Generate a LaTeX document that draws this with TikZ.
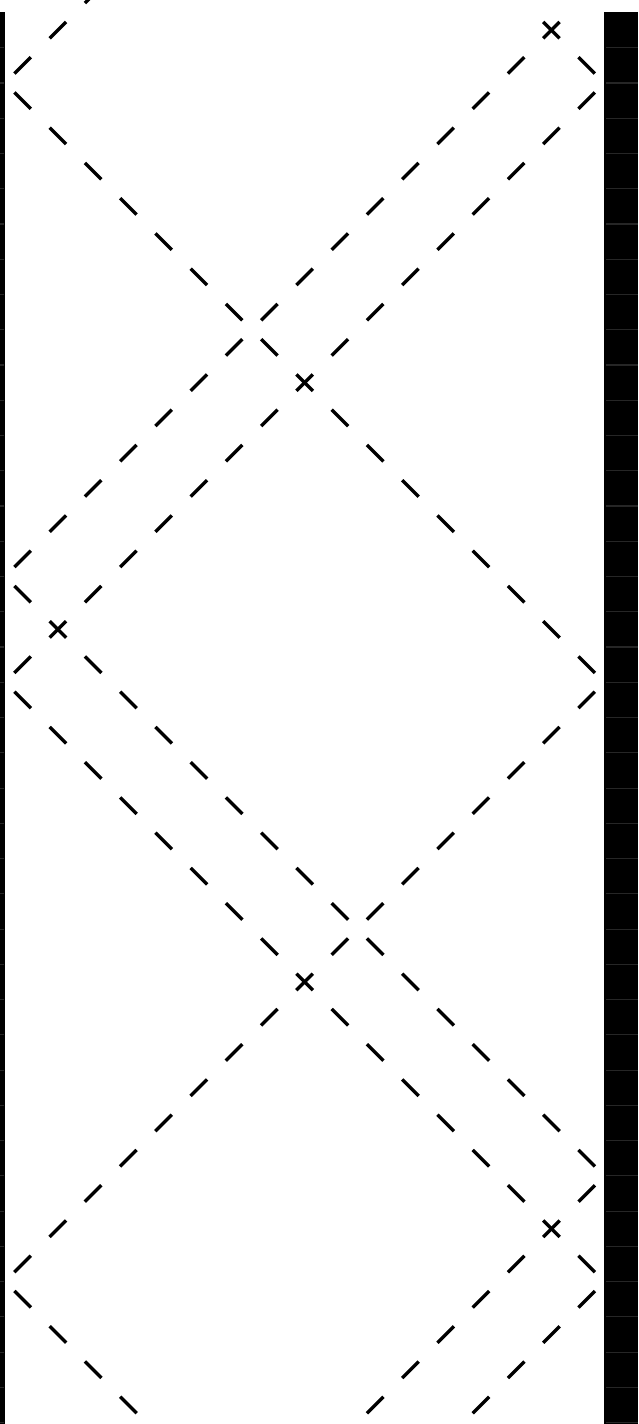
\documentclass[tikz,border=0pt]{standalone}
\begin{document}
\begin{tikzpicture}[x=0.5cm,y=-0.5cm,
  ray/.style={line width=1.35pt, black, dash pattern=on 0.33cm off 0.377107cm, dash phase=0.518553cm},
  wall/.style={fill=black},
  tick/.style={draw=black!85, line width=0.45pt}]
\path[use as bounding box] (-0.1418,-0.3546) rectangle (17.957,40.04);
\clip (-0.1418,-0.3546) rectangle (17.957,40.04);
\fill[white] (-0.1418,-0.3546) rectangle (17.957,40.04);
% walls
\path[wall] (-0.1418,0) rectangle (0,40.2);
\path[wall] (17,0) rectangle (17.957,40.2);
\foreach \k in {1,...,40} {
  \draw[tick] (17.05,\k) -- (17.957,\k);
  \draw[tick] (-0.1418,\k) -- (-0.04,\k);
}
% rays
\draw[ray] (16,0) -- (0,16) -- (17,33) -- (9,41);
\draw[ray] (15,0) -- (17,2) -- (0,19) -- (17,36) -- (12,41);
\draw[ray] (3,-1) -- (0,2) -- (17,19) -- (0,36) -- (5,41);
\end{tikzpicture}
\end{document}
